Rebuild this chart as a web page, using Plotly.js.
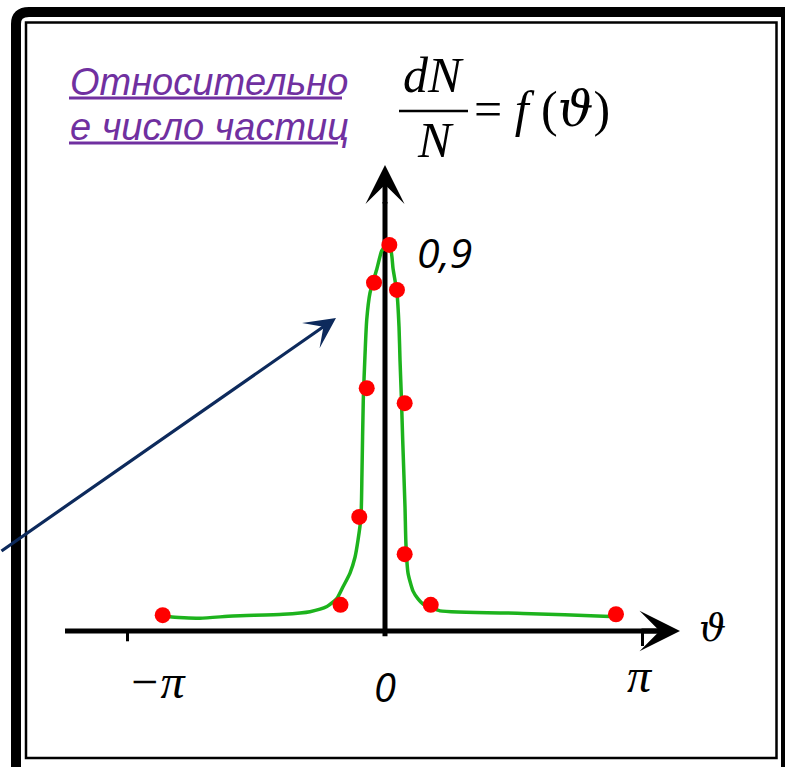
<!DOCTYPE html>
<html><head><meta charset="utf-8">
<script src="https://cdn.plot.ly/plotly-3.0.1.min.js"></script>
<style>html,body{margin:0;padding:0;background:#fff;overflow:hidden}</style>
</head><body><div id="chart" style="width:785px;height:767px"></div>
<script>
const PI = Math.PI;
// Smooth curve f(theta)
const curveTheta = [-2.708, -2.623, -2.257, -1.854, -1.244, -0.915, -0.708, -0.586, -0.512, -0.427, -0.366, -0.329, -0.293, -0.281, -0.265, -0.244, -0.223, -0.183, -0.098, -0.040, 0.010, 0.072, 0.098, 0.146, 0.171, 0.183, 0.201, 0.216, 0.244, 0.256, 0.281, 0.342, 0.403, 0.464, 0.549, 0.671, 1.684, 2.745, 2.818];
const curveValue = [0.037, 0.033, 0.030, 0.035, 0.039, 0.045, 0.057, 0.076, 0.103, 0.135, 0.172, 0.212, 0.266, 0.368, 0.538, 0.643, 0.725, 0.788, 0.845, 0.886, 0.897, 0.886, 0.845, 0.788, 0.709, 0.632, 0.538, 0.445, 0.289, 0.200, 0.135, 0.093, 0.075, 0.063, 0.056, 0.047, 0.041, 0.034, 0.033];
// Measured points (red dots)
const pointTheta = [-2.712, -0.543, -0.314, -0.223, -0.134, 0.053, 0.146, 0.240, 0.240, 0.558, 2.818];
const pointValue = [0.037, 0.061, 0.266, 0.566, 0.812, 0.900, 0.795, 0.531, 0.179, 0.061, 0.039];
// Tick labels
const tickValues = [-PI, 0, PI];
const tickLabels = ['−π', '0', 'π'];
const peakValue = 0.9;
const peakLabel = '0,9';
const titleLines = ['Относительно', 'е число частиц'];

const W = 785, H = 767;
const px = x => x / W;
const py = y => 1 - y / H;
const pp = (x, y) => px(x) + ',' + py(y);

const purple = '#7030A0';
const serif = 'Liberation Serif, Times New Roman, serif';
const greek = 'DejaVu Serif, serif';
const sans = 'Liberation Sans, Arial, sans-serif';
const lab = 'Open Sans, DejaVu Sans, sans-serif';

const traces = [
  {x: curveTheta, y: curveValue, mode: 'lines', type: 'scatter',
   line: {color: '#1DB31D', width: 3.5, shape: 'spline', smoothing: 0.6},
   hoverinfo: 'skip', cliponaxis: false},
  {x: pointTheta, y: pointValue, mode: 'markers', type: 'scatter',
   marker: {color: '#FF0000', size: 16, line: {width: 0}}, cliponaxis: false}
];

const shapes = [
  // outer thick frame (rounded top-left)
  {type: 'path', xref: 'paper', yref: 'paper', layer: 'above',
   path: 'M' + pp(16, 775) + ' L' + pp(16, 24) + ' Q' + pp(16, 12) + ' ' + pp(29, 12) + ' L' + pp(786, 12) + ' L' + pp(786, 775),
   line: {color: '#000', width: 10}},
  // inner thin frame
  {type: 'rect', xref: 'paper', yref: 'paper', x0: px(26), x1: px(776.5), y0: py(758), y1: py(22.5),
   line: {color: '#000', width: 2.5}},
  // x axis line
  {type: 'line', xref: 'x', yref: 'y', x0: -3.904, x1: 3.40, y0: 0, y1: 0, layer: 'below',
   line: {color: '#000', width: 5}},
  // y axis line
  {type: 'line', xref: 'x', yref: 'y', x0: 0, x1: 0, y0: -0.012, y1: 1.00, layer: 'below',
   line: {color: '#000', width: 5}},
  // ticks
  {type: 'line', xref: 'x', yref: 'y', x0: tickValues[0], x1: tickValues[0], y0: 0, y1: -0.024, layer: 'below',
   line: {color: '#000', width: 3}},
  {type: 'line', xref: 'x', yref: 'y', x0: tickValues[2], x1: tickValues[2], y0: 0, y1: -0.035, layer: 'below',
   line: {color: '#000', width: 3}},
  // title underlines
  {type: 'line', xref: 'paper', yref: 'paper', x0: px(69), x1: px(342), y0: py(98), y1: py(98),
   line: {color: purple, width: 3}},
  {type: 'line', xref: 'paper', yref: 'paper', x0: px(69), x1: px(338), y0: py(143), y1: py(143),
   line: {color: purple, width: 3}},
  // fraction bar
  {type: 'line', xref: 'paper', yref: 'paper', x0: px(399), x1: px(468), y0: py(111), y1: py(111),
   line: {color: '#000', width: 2.5}}
];

const annotations = [
  // title lines
  {xref: 'paper', yref: 'paper', x: px(68), y: py(82), xanchor: 'left', yanchor: 'middle', showarrow: false,
   text: '<i>' + titleLines[0] + '</i>', font: {family: sans, size: 38, color: purple}},
  {xref: 'paper', yref: 'paper', x: px(68), y: py(127), xanchor: 'left', yanchor: 'middle', showarrow: false,
   text: '<i>' + titleLines[1] + '</i>', font: {family: sans, size: 38, color: purple}},
  // formula
  {xref: 'paper', yref: 'paper', x: px(433), y: py(75), xanchor: 'center', yanchor: 'middle', showarrow: false,
   text: '<i>dN</i>', font: {family: serif, size: 50, color: '#000'}},
  {xref: 'paper', yref: 'paper', x: px(435), y: py(140), xanchor: 'center', yanchor: 'middle', showarrow: false,
   text: '<i>N</i>', font: {family: serif, size: 50, color: '#000'}},
  {xref: 'paper', yref: 'paper', x: px(472), y: py(109), xanchor: 'left', yanchor: 'middle', showarrow: false,
   text: '= <i>f</i> (<span style="font-family:DejaVu Serif"><i>ϑ</i></span>)', font: {family: serif, size: 50, color: '#000'}},
  // axis arrowheads
  {xref: 'x', yref: 'y', x: 3.599, y: 0, ax: -40, ay: 0, text: '', showarrow: true,
   arrowhead: 3, arrowsize: 1.35, arrowwidth: 5, arrowcolor: '#000'},
  {xref: 'x', yref: 'y', x: 0, y: 1.086, ax: 0, ay: 40, text: '', showarrow: true,
   arrowhead: 3, arrowsize: 1.3, arrowwidth: 5, arrowcolor: '#000'},
  // navy pointer arrow
  {xref: 'paper', yref: 'paper', x: px(336), y: py(318), ax: -336, ay: 234, text: '', showarrow: true,
   arrowhead: 3, arrowsize: 1.6, arrowwidth: 3.2, arrowcolor: '#0D2A5C'},
  // tick labels
  {xref: 'x', yref: 'y', x: tickValues[0], y: 0, xshift: 29, yshift: -50, showarrow: false,
   text: '<i>' + tickLabels[0] + '</i>', font: {family: serif, size: 48, color: '#000'}},
  {xref: 'x', yref: 'y', x: tickValues[1], y: 0, xshift: 0, yshift: -55, showarrow: false,
   text: '<i>' + tickLabels[1] + '</i>', font: {family: lab, size: 40, color: '#000'}},
  {xref: 'x', yref: 'y', x: tickValues[2], y: 0, xshift: -3, yshift: -44, showarrow: false,
   text: '<i>' + tickLabels[2] + '</i>', font: {family: serif, size: 48, color: '#000'}},
  {xref: 'x', yref: 'y', x: 0, y: peakValue, xshift: 59, yshift: -7, showarrow: false,
   text: '<i>' + peakLabel + '</i>', font: {family: lab, size: 41, color: '#000'}},
  // axis symbol
  {xref: 'x', yref: 'y', x: 3.599, y: 0, xshift: 33, yshift: 3, showarrow: false,
   text: '<i>ϑ</i>', font: {family: greek, size: 38, color: '#000'}}
];

const layout = {
  width: W, height: H,
  margin: {l: 0, r: 0, t: 0, b: 0, pad: 0},
  paper_bgcolor: '#fff', plot_bgcolor: '#fff',
  showlegend: false,
  xaxis: {range: [-4.6971, 4.8801], visible: false, fixedrange: true},
  yaxis: {range: [-0.31702, 1.47086], visible: false, fixedrange: true},
  shapes: shapes,
  annotations: annotations
};

Plotly.newPlot('chart', traces, layout, {displayModeBar: false, staticPlot: true});
</script>
</body></html>
